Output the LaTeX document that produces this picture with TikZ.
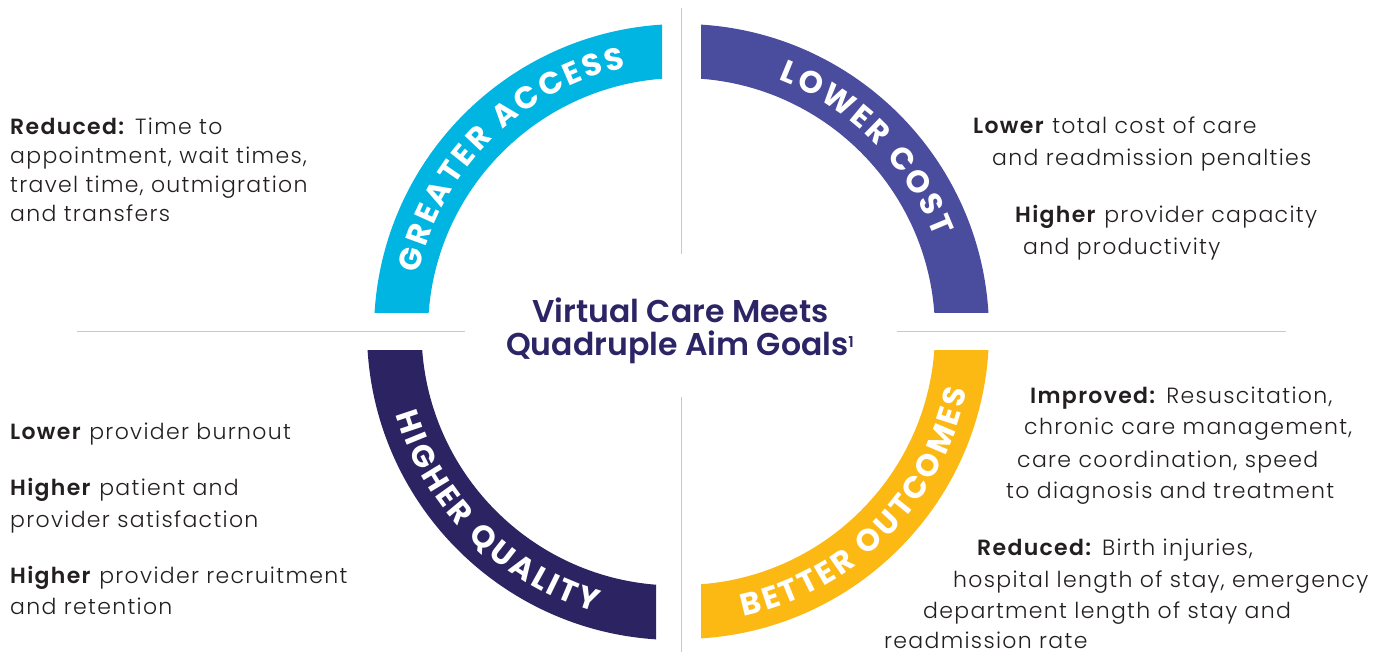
\documentclass[tikz,border=0pt]{standalone}
\usepackage{fontspec}
\usetikzlibrary{decorations.text}
\definecolor{cAccess}{HTML}{00B5E2}
\definecolor{cCost}{HTML}{4A4C9E}
\definecolor{cQuality}{HTML}{2B2362}
\definecolor{cOutcome}{HTML}{FDB913}
\definecolor{cTitle}{HTML}{2B2566}
\definecolor{cBody}{HTML}{231F20}
\definecolor{cRule}{HTML}{C8C8C8}
\IfFontExistsTF{Poppins Light}{%
  \IfFontExistsTF{Poppins SemiBold}{%
    \newfontfamily\bodyfont{Poppins Light}[BoldFont={Poppins SemiBold}, LetterSpace=6]%
    \newfontfamily\titlefont{Poppins SemiBold}%
  }{%
    \newfontfamily\bodyfont{Poppins Light}[BoldFont={Poppins Bold}, LetterSpace=6]%
    \newfontfamily\titlefont{Poppins Bold}%
  }%
}{%
  \newfontfamily\bodyfont{Poppins}[LetterSpace=6]%
  \newfontfamily\titlefont{Poppins}[UprightFont={* Bold}]%
}
\newfontfamily\arcfont{Poppins}
\tikzset{
  body/.style={font=\bodyfont\fontsize{22}{29}\selectfont, text=cBody, anchor=base west, inner sep=0pt},
  ttl/.style={font=\titlefont\fontsize{31.5}{36}\selectfont, text=cTitle, anchor=base, inner sep=0pt},
  rule/.style={draw=cRule, line width=1.5pt},
  arclabel/.style={decorate, decoration={text along path, text align=center, text color=white,
      text={|\arcfont\bfseries\fontsize{31}{31}\selectfont\kern3pt|#1}}}
}
\begin{document}
\begin{tikzpicture}[x=1pt,y=1pt]
\fill[white] (0,0) rectangle (1377,-652);
\useasboundingbox (0,0) rectangle (1377,-652);
\coordinate (cA) at (681.5,-331.5);
\coordinate (cQ) at (676,-331);
% quadrant bands
\begin{scope}
  \clip (0,-313) rectangle (662,0);
  \fill[cAccess, even odd rule] (cA) circle[radius=307.5] (cA) circle[radius=253.5];
\end{scope}
\begin{scope}
  \clip (701,-313) rectangle (1377,0);
  \fill[cCost, even odd rule] (cA) circle[radius=307.5] (cA) circle[radius=253.5];
\end{scope}
\begin{scope}
  \clip (701,-351) rectangle (1377,-652);
  \fill[cOutcome, even odd rule] (cA) circle[radius=307.5] (cA) circle[radius=253.5];
\end{scope}
\begin{scope}
  \clip (0,-351) rectangle (656,-652);
  \fill[cQuality, even odd rule] (cQ) circle[radius=309] (cQ) circle[radius=254.5];
\end{scope}
% band labels
\path[arclabel=GREATER ACCESS] ([shift={(180:269.5)}]cA) arc[start angle=180, end angle=90, radius=269.5];
\path[arclabel=LOWER COST] ([shift={(90:269.5)}]cA) arc[start angle=90, end angle=0, radius=269.5];
\path[arclabel=HIGHER QUALITY] ([shift={(180:292.5)}]cQ) arc[start angle=180, end angle=270, radius=292.5];
\path[arclabel=BETTER OUTCOMES] ([shift={(270:291.5)}]cA) arc[start angle=270, end angle=360, radius=291.5];
% rules
\coordinate (vt1) at (681.5,-8);
\coordinate (vt2) at (681.5,-254);
\coordinate (vb1) at (681.5,-397);
\coordinate (vb2) at (681.5,-652);
\coordinate (hl1) at (77,-331.5);
\coordinate (hl2) at (465,-331.5);
\coordinate (hr1) at (897,-331.5);
\coordinate (hr2) at (1286,-331.5);
\draw[rule] (vt1) -- (vt2);
\draw[rule] (vb1) -- (vb2);
\draw[rule] (hl1) -- (hl2);
\draw[rule] (hr1) -- (hr2);
% title
\node[ttl] (t1) at (680.5,-323) {Virtual Care Meets};
\node[ttl] (t2) at (680,-356) {Quadruple Aim Goals\raisebox{9pt}{\fontsize{15}{15}\selectfont 1}};
% top-left
\node[body] (a1) at (10,-135) {\textbf{Reduced:} Time to};
\node[body] (a2) at (10,-164) {appointment, wait times,};
\node[body] (a3) at (10,-193) {travel time, outmigration};
\node[body] (a4) at (10,-222) {and transfers};
% top-right
\node[body] (b1) at (973,-134) {\textbf{Lower} total cost of care};
\node[body] (b2) at (992,-166) {and readmission penalties};
\node[body] (b3) at (1015,-223) {\textbf{Higher} provider capacity};
\node[body] (b4) at (1023,-255) {and productivity};
% bottom-left
\node[body] (c1) at (10,-439) {\textbf{Lower} provider burnout};
\node[body] (c2) at (10,-495) {\textbf{Higher} patient and};
\node[body] (c3) at (10,-527) {provider satisfaction};
\node[body] (c4) at (10,-583) {\textbf{Higher} provider recruitment};
\node[body] (c5) at (10,-614) {and retention};
% bottom-right
\node[body] (d1) at (1030,-403) {\textbf{Improved:} Resuscitation,};
\node[body] (d2) at (1024,-435) {chronic care management,};
\node[body] (d3) at (1017,-467) {care coordination, speed};
\node[body] (d4) at (1006,-498) {to diagnosis and treatment};
\node[body] (d5) at (977,-555) {\textbf{Reduced:} Birth injuries,};
\node[body] (d6) at (953,-587) {hospital length of stay, emergency};
\node[body] (d7) at (923,-618) {department length of stay and};
\node[body] (d8) at (884,-648) {readmission rate};
\end{tikzpicture}
\end{document}
